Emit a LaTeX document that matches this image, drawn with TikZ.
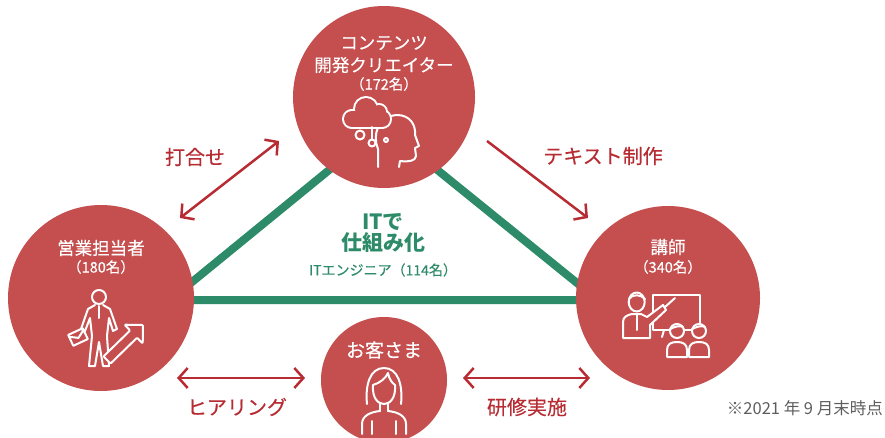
\documentclass[tikz,border=0pt]{standalone}
\usepackage{fontspec}
\setmainfont{Noto Sans CJK JP}
\newfontfamily\medfont{Noto Sans CJK JP}[FakeBold=0.35]
\usetikzlibrary{arrows.meta}

\definecolor{bubblered}{HTML}{C54E4F}
\definecolor{arrowred}{HTML}{B72C33}
\definecolor{itgreen}{HTML}{2E8B69}
\definecolor{notegray}{HTML}{5E5E5E}

\tikzset{
  bubble/.style={circle, fill=bubblered, inner sep=0pt},
  role/.style={text=white, inner sep=0pt, font=\medfont\fontsize{17.5}{20}\selectfont},
  headcount/.style={text=white, inner sep=0pt, font=\medfont\fontsize{14.5}{17}\selectfont},
  flow/.style={arrowred, line width=2.5pt},
  flowlabel/.style={text=arrowred, inner sep=0pt, font=\medfont\fontsize{20}{24}\selectfont},
  link/.style={itgreen, line width=8pt},
  icon/.style={white, line width=2pt, line join=round, line cap=round},
}

\begin{document}
\begin{tikzpicture}[x=1pt, y=-1pt, >={Straight Barb[length=9pt,width=20pt]}]
    \useasboundingbox (0,0) rectangle (885,438);

    % green triangle behind the circles
    \coordinate (apex) at (383,126);
    \coordinate (lb)   at (170,300);
    \coordinate (rb)   at (598,300);
    \draw[link] (lb) -- (apex) -- (rb) -- cycle;

    % the four groups
    \node[bubble, minimum size=182] (creator) at (384,97)  {};
    \node[bubble, minimum size=186] (sales)   at (101,298) {};
    \node[bubble, minimum size=184] (teacher) at (668,298) {};
    \node[bubble, minimum size=126] (client)  at (384,380) {};

    \node[role]      (c1) at (384,43)  {コンテンツ};
    \node[role]      (c2) at (384,65)  {開発クリエイター};
    \node[headcount] (c3) at (384,84)  {（172名）};
    \node[role]      (s1) at (101,248) {営業担当者};
    \node[headcount] (s2) at (101,267) {（180名）};
    \node[role]      (t1) at (668,247) {講師};
    \node[headcount] (t2) at (668,267) {（340名）};
    \node[role, font=\medfont\fontsize{19}{22}\selectfont] (k1) at (384,350) {お客さま};

    % centre text
    \node[text=itgreen, inner sep=0pt, font=\bfseries\fontsize{21}{24}\selectfont] (g1) at (383,222) {ITで};
    \node[text=itgreen, inner sep=0pt, font=\bfseries\fontsize{21}{24}\selectfont] (g2) at (383,243) {仕組み化};
    \node[text=itgreen, inner sep=0pt, font=\medfont\fontsize{14}{16}\selectfont] (g3) at (383,270) {ITエンジニア（114名）};

    % icon: creator (cloud and head)
    \draw[icon] (378,167) -- (378,149) .. controls (372,135) and (378,116) .. (397,115)
        .. controls (410,115) and (416,125) .. (415,135) -- (419,146) -- (415,148) -- (416,156)
        .. controls (416,161) and (408,162) .. (400,161) -- (399,167);
    \foreach \cx/\cy/\r in {352/119/8, 366/109/11, 379/112/7, 382/119/8}
        \draw[white, line width=4pt] (\cx,\cy) circle[radius=\r];
    \draw[white, line width=4pt] (352,111) rectangle (382,127);
    \foreach \cx/\cy/\r in {352/119/8, 366/109/11, 379/112/7, 382/119/8}
        \fill[bubblered] (\cx,\cy) circle[radius=\r];
    \fill[bubblered] (352,111) rectangle (382,127);
    \draw[icon] (372,127) -- (372,139);
    \draw[icon] (360,135) circle[radius=4.5];
    \draw[icon] (372,143) circle[radius=3.5];
    \draw[icon] (386,140) circle[radius=2];

    % icon: sales (man, briefcase, arrow)
    \draw[icon] (99,297) circle[radius=7];
    \draw[icon] (95,305) -- (88,309) -- (81,329) -- (85,331) -- (90,318) -- (92,336) -- (89,366)
        -- (95,366) -- (99,342) -- (103,366) -- (109,366) -- (107,336) -- (109,318) -- (113,331)
        -- (117,329) -- (110,309) -- (103,305);
    \draw[icon] (99,306) -- (99,318);
    \draw[icon, rotate around={25:(78,337)}] (70,331) rectangle (86,343) (70,333) -- (78,338) -- (86,333);
    \filldraw[icon, fill=bubblered, rounded corners=1pt] (110.5,363.6) -- (137.1,337.7) -- (142.7,343.5)
        -- (143,325) -- (124.5,324.7) -- (130.1,330.5) -- (103.5,356.4) -- cycle;

    % icon: teacher (board, teacher, two students)
    \draw[icon] (653,295) rectangle (700,330);
    \draw[icon] (664,330) -- (662,337);
    \draw[icon] (636.7,302) ellipse[x radius=8, y radius=9.5];
    \draw[icon] (629,299) .. controls (632,294) and (641,294) .. (645,299);
    \filldraw[icon, fill=bubblered] (623,338) -- (623,322) .. controls (623,317) and (627,315) .. (632,314)
        -- (641,314) -- (647,317) -- (663,305) -- (666,310) -- (650,325) -- (650,338) -- cycle;
    \draw[icon] (636.7,315) -- (636.7,330);
    \draw[icon] (665,307) -- (675,298);
    \foreach \sx in {677,699} {
        \filldraw[icon, fill=bubblered] (\sx-10,357) -- (\sx-10,350) .. controls (\sx-10,344) and (\sx-6,342) .. (\sx,342)
            .. controls (\sx+6,342) and (\sx+10,344) .. (\sx+10,350) -- (\sx+10,357) -- cycle;
        \filldraw[icon, fill=bubblered] (\sx,331) circle[radius=7];
        \draw[icon] (\sx-7,329) .. controls (\sx-3,327) and (\sx+3,325) .. (\sx+6,327);
    }

    % icon: client (woman)
    \draw[icon] (367,404) .. controls (365,385) and (370,368) .. (384,368)
        .. controls (398,368) and (403,385) .. (401,404);
    \draw[icon] (373,385) .. controls (372,398) and (378,404) .. (384,404)
        .. controls (390,404) and (396,398) .. (395,385);
    \draw[icon] (373,385) .. controls (380,383) and (386,378) .. (388,373)
        .. controls (389,379) and (392,383) .. (395,385);
    \draw[icon] (380,404) -- (380,411) (388,404) -- (388,411);
    \draw[icon] (362,434) -- (362,424) .. controls (362,416) and (370,412) .. (380,411);
    \draw[icon] (388,411) .. controls (398,412) and (406,416) .. (406,424) -- (406,434);
    \draw[icon] (372,421) -- (372,434) (396,421) -- (396,434);

    % arrows between the groups
    \coordinate (a1) at (180,218);
    \coordinate (a2) at (279,141);
    \coordinate (b1) at (487,141);
    \coordinate (b2) at (588,218);
    \coordinate (h1) at (177,378);
    \coordinate (h2) at (305,378);
    \coordinate (k2) at (463,378);
    \coordinate (k3) at (590,378);
    \draw[flow, <->] (a1) -- (a2);
    \draw[flow, ->]  (b1) -- (b2);
    \draw[flow, <->] (h1) -- (h2);
    \draw[flow, <->] (k2) -- (k3);

    \node[flowlabel] (l1) at (195,157) {打合せ};
    \node[flowlabel] (l2) at (603,156) {テキスト制作};
    \node[flowlabel] (l3) at (237,407) {ヒアリング};
    \node[flowlabel] (l4) at (527,407) {研修実施};

    \node[text=notegray, inner sep=0pt, anchor=east, font=\fontsize{16.5}{19}\selectfont] (note) at (883,408) {※2021 年 9 月末時点};
\end{tikzpicture}
\end{document}
